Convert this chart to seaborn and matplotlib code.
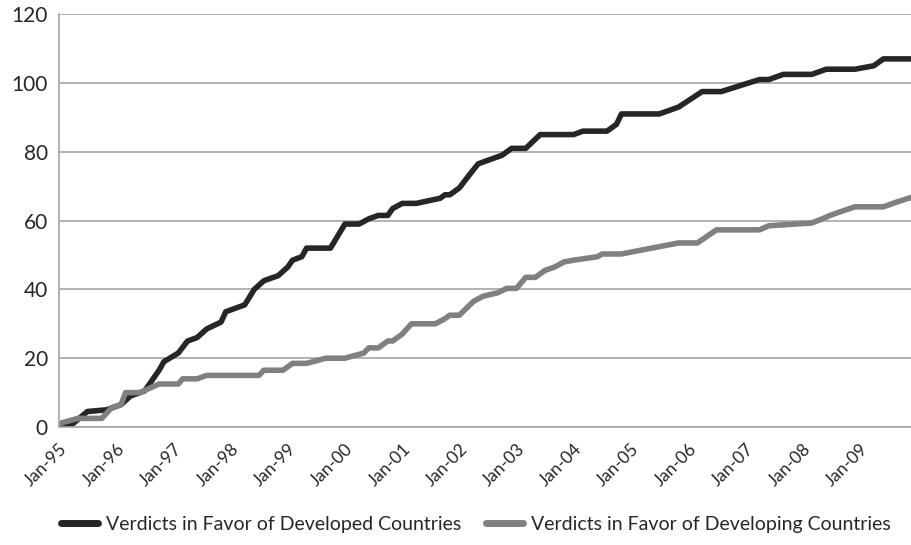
import numpy as np
import pandas as pd
import matplotlib
matplotlib.use('Agg')
import matplotlib.pyplot as plt
import matplotlib.dates as mdates
import seaborn as sb

# cumulative verdicts (month, value)
developed_months = ['1995-01', '1995-04', '1995-07', '1995-11', '1996-01', '1996-02', '1996-04',
                    '1996-07', '1996-08', '1996-10', '1996-11', '1997-02', '1997-04', '1997-06',
                    '1997-08', '1997-11', '1997-12', '1998-04', '1998-06', '1998-08', '1998-11',
                    '1999-01', '1999-02', '1999-04', '1999-05', '1999-10', '2000-01', '2000-04',
                    '2000-06', '2000-08', '2000-10', '2000-11', '2001-01', '2001-04', '2001-09',
                    '2001-10', '2001-11', '2002-01', '2002-03', '2002-05', '2002-10', '2002-12',
                    '2003-03', '2003-06', '2004-01', '2004-03', '2004-08', '2004-10', '2004-11',
                    '2005-07', '2005-11', '2006-04', '2006-08', '2007-04', '2007-06', '2007-09',
                    '2008-03', '2008-06', '2008-12', '2009-04', '2009-06', '2009-12']
developed_values = [0.5, 1, 4.5, 5, 6, 6.5, 9,
                    10.5, 12.5, 16.5, 19, 21.5, 25, 26,
                    28.5, 30.5, 33.5, 35.5, 40, 42.5, 44,
                    46.5, 48.5, 49.5, 52, 52, 59, 59,
                    60.5, 61.5, 61.5, 63.5, 65, 65, 66.5,
                    67.5, 67.5, 69.5, 73, 76.5, 79, 81,
                    81, 85, 85, 86, 86, 88, 91,
                    91, 93, 97.5, 97.5, 101, 101, 102.5,
                    102.5, 104, 104, 105, 107, 107]

developing_months = ['1995-01', '1995-05', '1995-10', '1995-12', '1996-02', '1996-03', '1996-06',
                     '1996-10', '1997-02', '1997-03', '1997-06', '1997-08', '1998-07', '1998-08',
                     '1998-12', '1999-02', '1999-05', '1999-09', '2000-01', '2000-05', '2000-06',
                     '2000-08', '2000-10', '2000-11', '2001-01', '2001-03', '2001-08', '2001-10',
                     '2001-11', '2002-01', '2002-04', '2002-06', '2002-09', '2002-11', '2003-01',
                     '2003-03', '2003-05', '2003-07', '2003-09', '2003-11', '2004-01', '2004-06',
                     '2004-07', '2004-11', '2005-11', '2006-03', '2006-07', '2007-04', '2007-06',
                     '2008-03', '2008-05', '2008-07', '2008-09', '2008-12', '2009-06', '2009-09',
                     '2009-12']
developing_values = [1, 2.5, 2.5, 5.5, 6.5, 10, 10,
                     12.5, 12.5, 14, 14, 15, 15, 16.5,
                     16.5, 18.5, 18.5, 20, 20, 21.5, 23,
                     23, 25, 25, 27, 30, 30, 31.5,
                     32.5, 32.5, 36.5, 38, 39, 40.3, 40.3,
                     43.5, 43.5, 45.5, 46.5, 48, 48.5, 49.5,
                     50.3, 50.3, 53.5, 53.5, 57.3, 57.3, 58.5,
                     59.3, 60.4, 61.6, 62.6, 64, 64, 65.5,
                     66.8]

series_names = ['Verdicts in Favor of Developed Countries', 'Verdicts in Favor of Developing Countries']
series_colors = ['#262626', '#808080']

df = pd.concat([
    pd.DataFrame({'date': pd.to_datetime(developed_months), 'verdicts': developed_values,
                  'series': series_names[0]}),
    pd.DataFrame({'date': pd.to_datetime(developing_months), 'verdicts': developing_values,
                  'series': series_names[1]}),
])

sb.set_style('white')
plt.rcParams['font.family'] = ['Lato', 'DejaVu Sans']

fig = plt.figure(figsize=(9.12, 5.45), dpi=100)
ax = fig.add_axes([0.0647, 0.2165, 0.9353, 0.7575])

sb.lineplot(data=df, x='date', y='verdicts', hue='series', palette=series_colors,
            linewidth=4, ax=ax)

ax.set_xlim(pd.Timestamp('1995-01-01'), pd.Timestamp('2009-12-01'))
ax.set_ylim(0, 120)
ax.set_yticks(np.arange(0, 121, 20))
ax.yaxis.grid(True, color='#a6a6a6', linewidth=1.2)
ax.set_axisbelow(True)

ax.xaxis.set_major_locator(mdates.YearLocator())
ax.xaxis.set_major_formatter(mdates.DateFormatter('%b-%y'))
plt.setp(ax.get_xticklabels(), rotation=45, ha='right', rotation_mode='anchor')
ax.tick_params(axis='x', length=5, color='#a6a6a6', width=1.2, labelsize=12.5, pad=5)
ax.tick_params(axis='y', length=0, labelsize=15, pad=8)

for side in ['top', 'right']:
    ax.spines[side].set_visible(False)
for side in ['left', 'bottom']:
    ax.spines[side].set_color('#a6a6a6')
    ax.spines[side].set_linewidth(1.2)

ax.set_xlabel('')
ax.set_ylabel('')

leg = ax.legend(loc='lower center', ncol=2, frameon=False, fontsize=14,
                handlelength=1.9, handletextpad=0.4, columnspacing=1.3)
leg.set_bbox_to_anchor((0.522, -0.01), transform=fig.transFigure)
for line in leg.get_lines():
    line.set_linewidth(5)
    line.set_solid_capstyle('round')

fig.savefig('out.png', dpi=100)
